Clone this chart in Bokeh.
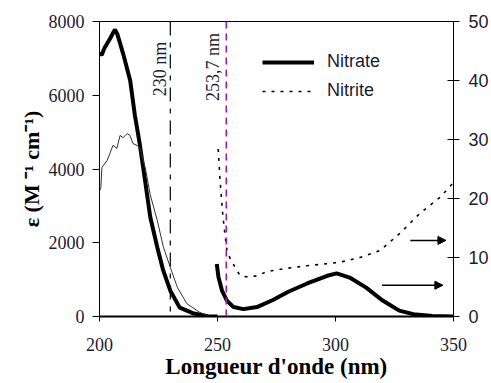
import math
from bokeh.plotting import figure
from bokeh.models import (Range1d, LinearAxis, FixedTicker, Label, Legend, LegendItem,
                          Arrow, NormalHead, Span, Title)
from bokeh.embed import file_html
from bokeh.resources import INLINE

# ---- data ----
# Nitrate, left axis (epsilon, M-1 cm-1)
nitrate_uv_x = [200, 201, 202, 204.5, 206.5, 207.5, 210, 213, 215, 217, 219.5, 221.5, 224.5, 227, 230, 234, 240, 246, 250]
nitrate_uv_y = [7130, 7100, 7270, 7540, 7780, 7670, 7130, 6400, 5450, 4700, 3600, 2700, 1870, 1250, 700, 240, 80, 10, 0]
# Nitrite, left axis
nitrite_uv_x = [200, 200.6, 201, 203.2, 204.4, 205.7, 207.4, 208.7, 210, 211.7, 212.9, 214.2, 215.9, 217.2, 219.5, 221.5, 224.5, 227, 230, 233, 237, 242.5, 247]
nitrite_uv_y = [3400, 3500, 4040, 4230, 4420, 4640, 4560, 4910, 4850, 4960, 4910, 4690, 4640, 4560, 4000, 3300, 2600, 1900, 1330, 790, 350, 110, 0]
# Nitrate, right axis
nitrate_vis_x = [249.7, 250.4, 251.9, 254, 256.8, 261, 266.7, 273.5, 280, 288, 296.5, 300.5, 306, 313, 320, 327, 333, 341, 350]
nitrate_vis_y = [8.9, 6.7, 4.4, 2.7, 1.6, 1.25, 1.6, 2.8, 4.2, 5.6, 6.9, 7.3, 6.6, 4.9, 2.7, 1.0, 0.4, 0.1, 0]
# Nitrite, right axis
nitrite_vis_x = [250.3, 251.1, 252.2, 253.3, 254, 255.4, 257.5, 259.6, 263.1, 266.7, 270.2, 273.6, 280, 288, 295, 302, 310.4, 318.9, 327.3, 335.8, 344.3, 350]
nitrite_vis_y = [28.4, 23.0, 17.4, 13.4, 11.2, 9.8, 8.3, 6.9, 6.7, 6.9, 7.5, 7.8, 8.2, 8.6, 8.9, 9.2, 10.0, 11.2, 14.1, 17.5, 20.2, 22.7]

x_ticks = [200, 250, 300, 350]
left_ticks = [0, 2000, 4000, 6000, 8000]
right_ticks = [0, 10, 20, 30, 40, 50]
marker_lines = [230, 253.7]
marker_texts = ["230 nm", "253,7 nm"]
arrow_x0 = [331.7, 319.7]
arrow_x1 = [346.8, 345.5]
arrow_y = [12.9, 5.3]

SERIF = "Liberation Serif"
SANS = "Liberation Sans"
TXT = "#1c1c30"

p = figure(width=491, height=383, output_backend="svg", toolbar_location=None,
           x_range=Range1d(200, 350), y_range=Range1d(0, 8000),
           min_border_left=99, min_border_right=38, min_border_top=21, min_border_bottom=67)
p.extra_y_ranges = {"right": Range1d(0, 50)}
p.grid.visible = False
p.outline_line_color = "black"
p.outline_line_width = 1
p.background_fill_color = "white"
p.border_fill_color = "white"

# x axis
xa = p.xaxis[0]
xa.ticker = FixedTicker(ticks=x_ticks)
xa.major_tick_out = 5
xa.major_tick_in = 0
xa.minor_tick_line_color = None
xa.axis_line_width = 2
xa.major_label_text_font = SERIF
xa.major_label_text_font_size = "18px"
xa.major_label_text_color = TXT
xa.major_label_standoff = 16
xa.axis_label = "Longueur d'onde (nm)"
xa.axis_label_text_font = SERIF
xa.axis_label_text_font_style = "bold"
xa.axis_label_text_font_size = "23px"
xa.axis_label_text_color = "black"
xa.axis_label_standoff = 0

# left axis
ya = p.yaxis[0]
ya.ticker = FixedTicker(ticks=left_ticks)
ya.major_tick_out = 7
ya.major_tick_in = 0
ya.minor_tick_line_color = None
ya.major_label_text_font = SERIF
ya.major_label_text_font_size = "18px"
ya.major_label_text_color = TXT
ya.major_label_standoff = 8

# right axis
ra = LinearAxis(y_range_name="right", ticker=FixedTicker(ticks=right_ticks))
ra.major_tick_out = 6
ra.major_tick_in = 6
ra.minor_tick_line_color = None
ra.major_label_text_font = SANS
ra.major_label_text_font_size = "18px"
ra.major_label_text_color = TXT
ra.major_label_standoff = 9
p.add_layout(ra, "right")

# y title, placed outside the left axis
p.add_layout(Title(text="ε (M ⁻¹ cm⁻¹)", align="center", offset=56,
                   text_font=SERIF, text_font_style="bold", text_font_size="22px",
                   text_color="black", standoff=4), "left")

# marker lines
p.add_layout(Span(location=marker_lines[0], dimension="height", line_color="black",
                  line_width=1.2, line_dash="14 7 5 7"))
p.add_layout(Span(location=marker_lines[1], dimension="height", line_color="#9b1fa0",
                  line_width=1.5, line_dash="7 5"))

# curves
r_no3 = p.line(nitrate_uv_x, nitrate_uv_y, line_color="black", line_width=4)
p.line(nitrite_uv_x, nitrite_uv_y, line_color="#333333", line_width=1)
p.line(nitrate_vis_x, nitrate_vis_y, line_color="black", line_width=4, y_range_name="right")
r_no2 = p.line(nitrite_vis_x, nitrite_vis_y, line_color="black", line_width=1.6,
               line_dash="3 6", y_range_name="right")

# marker labels
p.add_layout(Label(x=225.5, y=6712, text=marker_texts[0], angle=math.pi / 2,
                   text_align="center", text_baseline="middle", text_font=SERIF,
                   text_font_size="18px", text_color=TXT))
p.add_layout(Label(x=248.0, y=6766, text=marker_texts[1], angle=math.pi / 2,
                   text_align="center", text_baseline="middle", text_font=SERIF,
                   text_font_size="18px", text_color=TXT))

# arrows
for x0, x1, yy in zip(arrow_x0, arrow_x1, arrow_y):
    p.add_layout(Arrow(x_start=x0, y_start=yy, x_end=x1, y_end=yy, y_range_name="right",
                       line_color="black", line_width=1.5,
                       end=NormalHead(size=8, fill_color="black", line_color="black")))

legend = Legend(items=[LegendItem(label="Nitrate", renderers=[r_no3]),
                       LegendItem(label="Nitrite", renderers=[r_no2])],
                location=(163, 215), padding=0, margin=0, spacing=8,
                glyph_width=52, glyph_height=20, label_height=20, label_standoff=13,
                label_text_font=SANS, label_text_font_size="18px", label_text_color=TXT,
                border_line_color=None, background_fill_alpha=0)
p.add_layout(legend)

open("out.html", "w").write(file_html(p, INLINE))
